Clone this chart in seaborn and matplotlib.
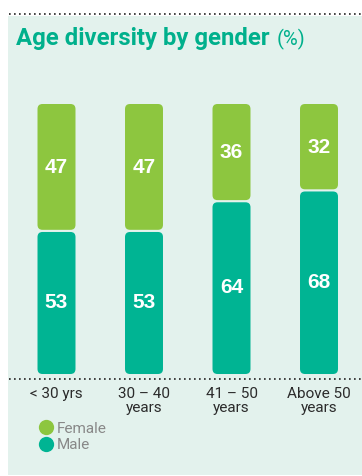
import matplotlib
matplotlib.use("Agg")
import matplotlib.pyplot as plt
import seaborn as sns
import pandas as pd
from matplotlib.patches import FancyBboxPatch, Rectangle
from matplotlib.lines import Line2D

categories = ["< 30 yrs", "30 – 40\nyears", "41 – 50\nyears", "Above 50\nyears"]
female = [47, 47, 36, 32]
male = [53, 53, 64, 68]
title = "Age diversity by gender"
unit = "(%)"

FEMALE_C = "#8DC63F"
MALE_C = "#00B493"
BG = "#E3F2ED"
TITLE_C = "#00B08C"

sns.set_theme(style="white")
plt.rcParams['font.family'] = ['Roboto', 'DejaVu Sans']

W, H = 362, 476
fig = plt.figure(figsize=(W / 100, H / 100), dpi=100)
fig.patch.set_facecolor("white")

# background panel
fig.patches.append(Rectangle((8 / W, 1 - 475 / H), (W - 8) / W, (475 - 16) / H,
                             transform=fig.transFigure, facecolor=BG, edgecolor="none", zorder=-10))
# dotted lines
fig.add_artist(Line2D([9 / W, 1], [1 - 14 / H] * 2, transform=fig.transFigure,
                      color="#222222", linestyle=(0, (1, 2)), linewidth=1.2))
fig.add_artist(Line2D([9 / W, 1], [1 - 379 / H] * 2, transform=fig.transFigure,
                      color="#222222", linestyle=(0, (1, 2)), linewidth=1.2))

t = fig.text(16 / W, 1 - 38.5 / H, title, fontsize=17.2, fontweight="bold", color=TITLE_C,
             va="center", ha="left")
fig.canvas.draw()
bb = t.get_window_extent()
fig.text((bb.x1 + 7) / W, 1 - 39.5 / H, unit, fontsize=14.5, color=TITLE_C, va="center", ha="left")

ax_left = 12.75 / W
ax_w = 350 / W
ax_bottom = 1 - 379 / H
ax_h = (379 - 104) / H
ax = fig.add_axes([ax_left, ax_bottom, ax_w, ax_h])
ax.set_facecolor("none")

df = pd.DataFrame({"cat": categories, "female": female, "male": male})
df["total"] = df["female"] + df["male"]

sns.barplot(data=df, x="cat", y="total", color=FEMALE_C, width=0.434, ax=ax, saturation=1)
sns.barplot(data=df, x="cat", y="male", color=MALE_C, width=0.434, ax=ax, saturation=1)

ax.set_xlim(-0.5, 3.5)
ax.set_ylim(-1.85, 100)

# convert bars to rounded boxes
patches = list(ax.patches)
n = len(categories)
gap = 0.4
x_per_px = 4.0 / 350
y_per_px = 101.85 / 275
rad_px = 5
aspect = y_per_px / x_per_px
for i, p in enumerate(patches):
    x0, w = p.get_x(), p.get_width()
    y0, h = p.get_y(), p.get_height()
    fc = p.get_facecolor()
    p.remove()
    if i < n:
        m = male[i]
        y0, h = m + gap, h - m - gap
    else:
        h = h - gap
    rx = rad_px * x_per_px
    box = FancyBboxPatch((x0 + rx, y0 + rx * aspect), w - 2 * rx, h - 2 * rx * aspect,
                         boxstyle=f"round,pad={rx},rounding_size={rx}",
                         mutation_aspect=aspect, facecolor=fc, edgecolor="none")
    ax.add_patch(box)

for i in range(n):
    ax.text(i, male[i] / 2, f"{male[i]}", ha="center", va="center", color="white",
            fontsize=15, fontweight="bold", family=["Liberation Sans", "DejaVu Sans"])
    ax.text(i, male[i] + female[i] / 2, f"{female[i]}", ha="center", va="center",
            color="white", fontsize=15, fontweight="bold", family=["Liberation Sans", "DejaVu Sans"])

ax.set_xlabel("")
ax.set_ylabel("")
ax.set_yticks([])
ax.tick_params(axis="x", length=0, pad=6, labelsize=11, labelcolor="#2b2b2b")
for lab in ax.get_xticklabels():
    lab.set_linespacing(0.95)
for s in ax.spines.values():
    s.set_visible(False)

handles = [Line2D([], [], marker="o", linestyle="none", markersize=11,
                  markerfacecolor=FEMALE_C, markeredgecolor="none", label="Female"),
           Line2D([], [], marker="o", linestyle="none", markersize=11,
                  markerfacecolor=MALE_C, markeredgecolor="none", label="Male")]
leg = fig.legend(handles=handles, loc="upper left", bbox_to_anchor=(26 / W, 1 - 414 / H),
                 frameon=False, handletextpad=-0.1, labelspacing=0.15, fontsize=11,
                 labelcolor="#888888", borderpad=0, handlelength=1.6)

fig.savefig("out.png", dpi=100)
